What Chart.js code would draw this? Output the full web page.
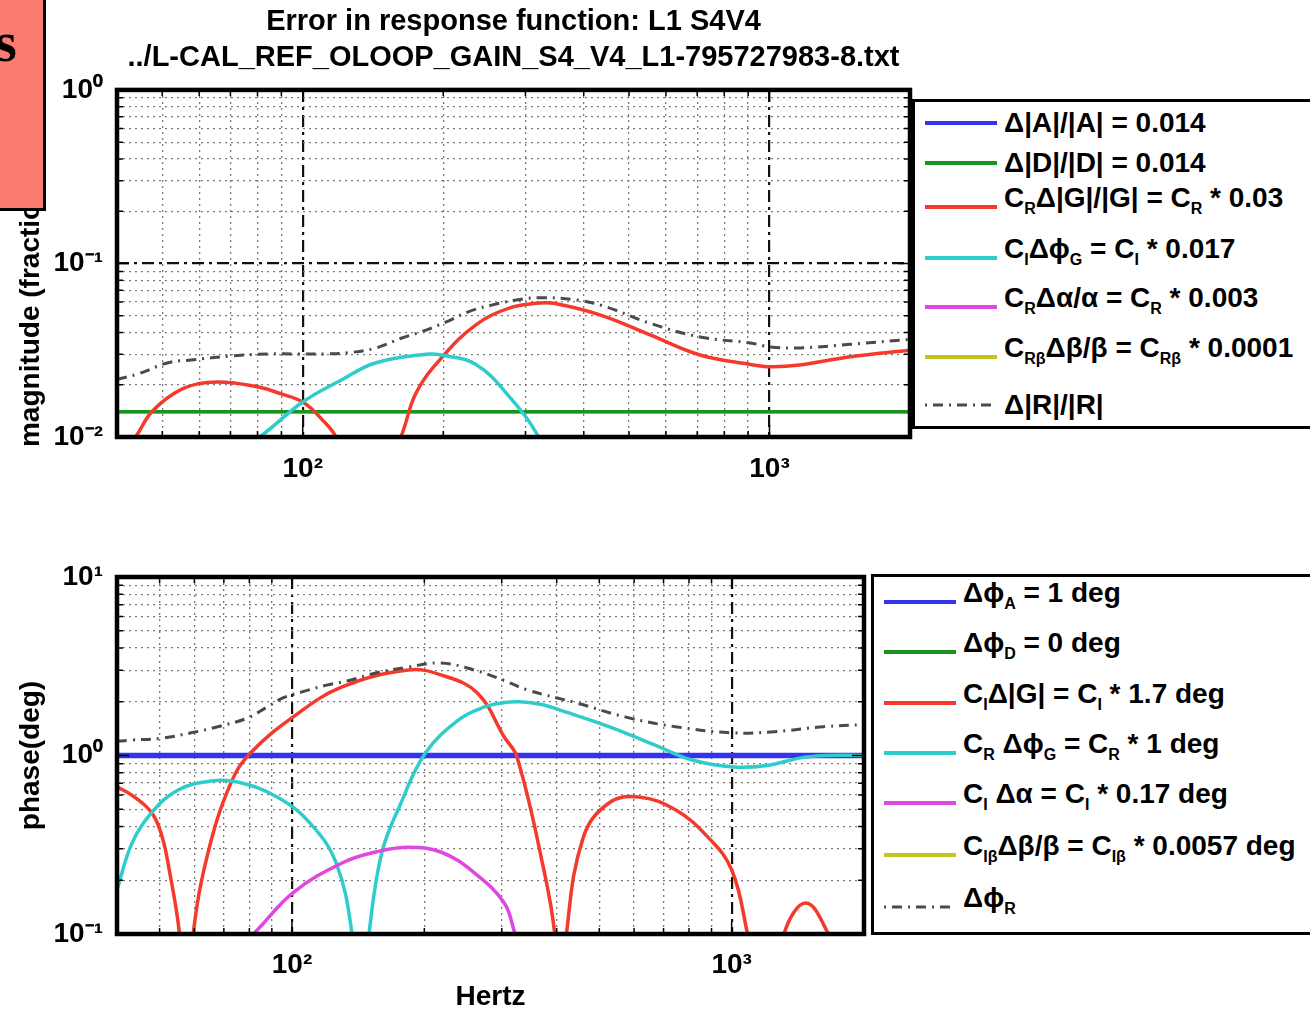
<!DOCTYPE html>
<html>
<head>
<meta charset="utf-8">
<script src="https://cdn.jsdelivr.net/npm/chart.js@4.4.1/dist/chart.umd.min.js"></script>
<style>
  html, body { margin: 0; padding: 0; }
  body { width: 1310px; height: 1012px; overflow: hidden; background: #fff; position: relative;
         font-family: "Liberation Sans", Arial, Helvetica, sans-serif; color: #000; }
  canvas { position: absolute; left: 0; }
  #topChart { top: 0; }
  #bottomChart { top: 540px; }
  .legend { position: absolute; background: #fff; border: 3px solid #000; box-sizing: border-box; z-index: 3; }
  #legendTop { left: 912px; top: 99px; width: 430px; height: 330px; }
  #legendBottom { left: 871px; top: 574px; width: 470px; height: 361px; }
  .row { position: absolute; left: 0; right: 0; height: 44px; display: flex; align-items: center;
         font-size: 28px; font-weight: bold; white-space: nowrap; }
  .row svg { flex: none; width: 72px; height: 10px; margin-left: 10px; }
  .row span { margin-left: 7px; position: relative; }
  .row span.up { top: -9px; }
  sub { font-size: 16px; vertical-align: -7px; line-height: 0; }
  #redBox { position: absolute; left: -20px; top: -20px; width: 66px; height: 231px; background: #fa7b70;
            border: 3px solid #000; box-sizing: border-box; z-index: 5; overflow: hidden; }
  #redBox span { position: absolute; left: 12px; top: 31px; font: bold 56px/1 "Liberation Serif", "Times New Roman", serif; }
</style>
</head>
<body>
<canvas id="topChart" width="1027" height="490"></canvas>
<canvas id="bottomChart" width="878" height="476"></canvas>

<div class="legend" id="legendTop">
  <div class="row" style="top:-1px"><svg><line x1="0" y1="5" x2="72" y2="5" stroke="#3434ee" stroke-width="4"/></svg><span>Δ|A|/|A| = 0.014</span></div>
  <div class="row" style="top:39px"><svg><line x1="0" y1="5" x2="72" y2="5" stroke="#18961c" stroke-width="4"/></svg><span>Δ|D|/|D| = 0.014</span></div>
  <div class="row" style="top:83px"><svg><line x1="0" y1="5" x2="72" y2="5" stroke="#f5392c" stroke-width="4"/></svg><span class="up">C<sub>R</sub>Δ|G|/|G| = C<sub>R</sub> * 0.03</span></div>
  <div class="row" style="top:134px"><svg><line x1="0" y1="5" x2="72" y2="5" stroke="#2fcccc" stroke-width="4"/></svg><span class="up">C<sub>I</sub>Δϕ<sub>G</sub> = C<sub>I</sub> * 0.017</span></div>
  <div class="row" style="top:183px"><svg><line x1="0" y1="5" x2="72" y2="5" stroke="#e046e0" stroke-width="4"/></svg><span class="up">C<sub>R</sub>Δα/α = C<sub>R</sub> * 0.003</span></div>
  <div class="row" style="top:233px"><svg><line x1="0" y1="5" x2="72" y2="5" stroke="#c4c41e" stroke-width="4"/></svg><span class="up">C<sub>Rβ</sub>Δβ/β = C<sub>Rβ</sub> * 0.0001</span></div>
  <div class="row" style="top:281px"><svg><line x1="0" y1="5" x2="72" y2="5" stroke="#4a4a4a" stroke-width="3" stroke-dasharray="2 6 10 6"/></svg><span>Δ|R|/|R|</span></div>
</div>

<div class="legend" id="legendBottom">
  <div class="row" style="top:3px"><svg><line x1="0" y1="5" x2="72" y2="5" stroke="#3434ee" stroke-width="4"/></svg><span class="up">Δϕ<sub>A</sub> = 1 deg</span></div>
  <div class="row" style="top:53px"><svg><line x1="0" y1="5" x2="72" y2="5" stroke="#18961c" stroke-width="4"/></svg><span class="up">Δϕ<sub>D</sub> = 0 deg</span></div>
  <div class="row" style="top:104px"><svg><line x1="0" y1="5" x2="72" y2="5" stroke="#f5392c" stroke-width="4"/></svg><span class="up">C<sub>I</sub>Δ|G| = C<sub>I</sub> * 1.7 deg</span></div>
  <div class="row" style="top:154px"><svg><line x1="0" y1="5" x2="72" y2="5" stroke="#2fcccc" stroke-width="4"/></svg><span class="up">C<sub>R</sub> Δϕ<sub>G</sub> = C<sub>R</sub> * 1 deg</span></div>
  <div class="row" style="top:204px"><svg><line x1="0" y1="5" x2="72" y2="5" stroke="#e046e0" stroke-width="4"/></svg><span class="up">C<sub>I</sub> Δα = C<sub>I</sub> * 0.17 deg</span></div>
  <div class="row" style="top:256px"><svg><line x1="0" y1="5" x2="72" y2="5" stroke="#c4c41e" stroke-width="4"/></svg><span class="up">C<sub>Iβ</sub>Δβ/β = C<sub>Iβ</sub> * 0.0057 deg</span></div>
  <div class="row" style="top:308px"><svg><line x1="0" y1="5" x2="72" y2="5" stroke="#4a4a4a" stroke-width="3" stroke-dasharray="2 6 10 6"/></svg><span class="up">Δϕ<sub>R</sub></span></div>
</div>

<div id="redBox"><span>s</span></div>

<script>
'use strict';

// ---- axes ----
var xTickValues = [50, 60, 70, 80, 90, 100, 200, 300, 400, 500, 600, 700, 800, 900, 1000, 2000];
var xLabelValues = [100, 1000];
var xLabels = ['10²', '10³'];

var magTickValues = [0.01, 0.02, 0.03, 0.04, 0.05, 0.06, 0.07, 0.08, 0.09,
                     0.1, 0.2, 0.3, 0.4, 0.5, 0.6, 0.7, 0.8, 0.9, 1];
var magLabelValues = [0.01, 0.1, 1];
var magLabels = ['10⁻²', '10⁻¹', '10⁰'];

var phaseTickValues = [0.1, 0.2, 0.3, 0.4, 0.5, 0.6, 0.7, 0.8, 0.9,
                       1, 2, 3, 4, 5, 6, 7, 8, 9, 10];
var phaseLabelValues = [0.1, 1, 10];
var phaseLabels = ['10⁻¹', '10⁰', '10¹'];

var titleLines = ['Error in response function: L1 S4V4',
                  '../L-CAL_REF_OLOOP_GAIN_S4_V4_L1-795727983-8.txt'];

// ---- magnitude panel ----
var magFlatFreq = [40, 2000];
var magA = [0.014, 0.014];
var magD = [0.014, 0.014];
var magBeta = [0.0001, 0.0001];

var magGFreq = [40, 43.8, 47.3, 53.3, 59.8, 68.2, 80.4, 90, 100, 110, 118, 125, 140, 162, 175,
                199, 235, 277, 321, 345, 433, 555, 710, 910, 1005, 1160, 1490, 2000];
var magG = [0.0078, 0.0100, 0.0138, 0.0180, 0.0203, 0.0207, 0.0194, 0.0177, 0.0159, 0.0126, 0.0099, 0.0060, 0.0045, 0.0099, 0.0180,
            0.0289, 0.0443, 0.0553, 0.0591, 0.0590, 0.0506, 0.0388, 0.0297, 0.0262, 0.0254, 0.0260, 0.0290, 0.0316];

var magPhiFreq = [40, 60, 80.4, 100, 121, 143, 184, 199, 235, 277, 321, 360, 600, 1000, 2000];
var magPhi = [0.004, 0.006, 0.0099, 0.0159, 0.0213, 0.0267, 0.0300, 0.0296, 0.0262, 0.0171, 0.0099, 0.005, 0.003, 0.004, 0.005];

var magAlphaFreq = [40, 100, 300, 1000, 2000];
var magAlpha = [0.002, 0.004, 0.006, 0.0025, 0.003];

var magRFreq = [40, 44.4, 51.5, 57.7, 70.4, 84.5, 98, 112, 125.6, 143.6, 163, 180, 203,
                227, 255, 287, 322, 386, 440, 555, 710, 910, 1005, 1160, 1490, 2000];
var magR = [0.0215, 0.0231, 0.0268, 0.0278, 0.0293, 0.0301, 0.0301, 0.0301, 0.0306, 0.0326, 0.0372, 0.0405, 0.0460,
            0.0528, 0.0577, 0.0616, 0.0635, 0.0616, 0.0570, 0.0452, 0.0377, 0.0348, 0.0330, 0.0326, 0.0342, 0.0365];

// ---- phase panel ----
var phaseFlatFreq = [40, 2000];
var phaseA = [1, 1];
var phaseD = [0, 0];
var phaseBeta = [0.0057, 0.0057];

var phaseGFreq = [40, 43.2, 47.9, 50.5, 52.4, 55.5, 57.5, 59.6, 64.4, 72.6, 80.4, 100.5, 130, 184, 218, 264, 304, 325,
                  374, 396, 408, 421, 460, 526, 615, 745, 883, 1000, 1087, 1200, 1315, 1475, 1660, 1800, 2000];
var phaseG = [0.667, 0.60, 0.48, 0.36, 0.24, 0.1, 0.03, 0.1, 0.284, 0.70, 1.03, 1.64, 2.42, 3.01, 2.83, 2.24, 1.27, 0.98,
              0.229, 0.1, 0.03, 0.1, 0.349, 0.542, 0.586, 0.496, 0.349, 0.229, 0.1, 0.03, 0.1, 0.149, 0.1, 0.06, 0.05];

var phasePhiFreq = [40, 43.3, 47.9, 55.1, 65.4, 75.2, 92.5, 109.8, 126, 137, 143, 149.7, 160, 177, 201,
                    239, 274, 304, 330, 370, 406, 526, 682, 813, 1011, 1205, 1436, 1645, 2000];
var phasePhi = [0.177, 0.324, 0.477, 0.641, 0.719, 0.71, 0.586, 0.419, 0.25, 0.1, 0.03, 0.1, 0.284, 0.542, 1.03,
                1.58, 1.87, 1.98, 2.0, 1.93, 1.8, 1.45, 1.12, 0.944, 0.863, 0.88, 0.97, 1.0, 1.0];

var phaseAlphaFreq = [40, 60, 81.7, 100.5, 130, 155, 184, 218, 260, 304, 322, 350];
var phaseAlpha = [0.03, 0.05, 0.1, 0.17, 0.25, 0.288, 0.306, 0.288, 0.22, 0.149, 0.1, 0.06];

var phaseRFreq = [40, 43.2, 50.5, 59, 67.8, 79.2, 87.8, 95.4, 105.9, 119.9, 135, 155,
                  184, 218, 260, 304, 343, 444, 575, 745, 1000, 1250, 1620, 2000];
var phaseR = [1.2, 1.22, 1.25, 1.34, 1.45, 1.62, 1.87, 2.1, 2.28, 2.48, 2.63, 2.9,
              3.13, 3.3, 3.01, 2.63, 2.33, 1.97, 1.64, 1.45, 1.34, 1.36, 1.45, 1.49];

// ---- styling ----
var FONT = '"Liberation Sans", Arial, Helvetica, sans-serif';
var colors = { A: '#3434ee', D: '#18961c', G: '#f5392c', phi: '#2fcccc', alpha: '#e046e0', beta: '#c4c41e', R: '#4a4a4a' };
var dashR = [10, 6, 2, 6];

Chart.defaults.font.family = FONT;
Chart.defaults.color = '#000';

function isDecade(v) {
    var l = Math.log10(v);
    return Math.abs(l - Math.round(l)) < 1e-6;
}

function labeler(values, labels) {
    return function (v) {
        for (var i = 0; i < values.length; i++) {
            if (Math.abs(values[i] - v) / v < 1e-6) return labels[i];
        }
        return '';
    };
}

// log of zero is not drawable, so zero values become gaps
function points(freqs, vals) {
    return freqs.map(function (f, i) { return { x: f, y: vals[i] > 0 ? vals[i] : null }; });
}

function series(freqs, vals, color, width, dash, order) {
    return {
        data: points(freqs, vals),
        borderColor: color,
        borderWidth: width,
        borderDash: dash || [],
        pointRadius: 0,
        fill: false,
        tension: 0.4,
        order: order
    };
}

function tickMajor(c) { return !!(c.tick && isDecade(c.tick.value)); }

var tickFont = { family: FONT, size: 28, weight: 'bold' };
var labelFont = { family: FONT, size: 28, weight: 'bold', lineHeight: 1.2 };

function logAxis(min, max, tickValues, labelFn, pad, fit, title) {
    var axis = {
        type: 'logarithmic',
        min: min,
        max: max,
        bounds: 'data',
        afterBuildTicks: function (s) { s.ticks = tickValues.map(function (v) { return { value: v }; }); },
        afterFit: fit,
        ticks: { autoSkip: false, maxRotation: 0, callback: labelFn, color: '#000', font: tickFont, padding: pad },
        grid: {
            drawTicks: false,
            color: function (c) { return tickMajor(c) ? '#111' : '#7a7a7a'; },
            lineWidth: function (c) { return tickMajor(c) ? 2.2 : 1.3; }
        },
        border: {
            display: false,
            dash: function (c) { return tickMajor(c) ? [12, 5, 3, 5] : [2, 4]; }
        }
    };
    if (title) axis.title = title;
    return axis;
}

// black box with inward tick marks, like the original axes
var framePlugin = {
    id: 'frame',
    afterDatasetsDraw: function (chart) {
        var ctx = chart.ctx, a = chart.chartArea, sx = chart.scales.x, sy = chart.scales.y;
        ctx.save();
        ctx.strokeStyle = '#000';
        ctx.lineWidth = 1.5;
        ctx.beginPath();
        sx.ticks.forEach(function (t) {
            var p = sx.getPixelForValue(t.value), len = isDecade(t.value) ? 12 : 6;
            ctx.moveTo(p, a.bottom); ctx.lineTo(p, a.bottom - len);
            ctx.moveTo(p, a.top); ctx.lineTo(p, a.top + len);
        });
        sy.ticks.forEach(function (t) {
            var p = sy.getPixelForValue(t.value), len = isDecade(t.value) ? 12 : 6;
            ctx.moveTo(a.left, p); ctx.lineTo(a.left + len, p);
            ctx.moveTo(a.right, p); ctx.lineTo(a.right - len, p);
        });
        ctx.stroke();
        ctx.lineWidth = 4.5;
        ctx.strokeRect(a.left, a.top, a.right - a.left, a.bottom - a.top);
        ctx.restore();
    }
};

var baseOptions = function () {
    return {
        responsive: false,
        animation: false,
        devicePixelRatio: 1,
        plugins: { legend: { display: false }, tooltip: { enabled: false } }
    };
};

// magnitude
var topOpts = baseOptions();
topOpts.layout = { padding: { left: 0, right: 117, top: 0, bottom: 0 } };
topOpts.plugins.title = {
    display: true, text: titleLines, color: '#000', fullSize: false,
    font: { family: FONT, size: 29, weight: 'bold', lineHeight: 1.24 },
    padding: { top: 4, bottom: 14 }
};
topOpts.scales = {
    x: logAxis(40, 2000, xTickValues, labeler(xLabelValues, xLabels), 15,
               function (s) { s.height = 53; }),
    y: logAxis(0.01, 1, magTickValues, labeler(magLabelValues, magLabels), 14,
               function (s) { s.width = 117; },
               { display: true, text: 'magnitude (fractional error)', color: '#000',
                 font: labelFont, padding: { top: 14, bottom: 0 } })
};

new Chart(document.getElementById('topChart'), {
    type: 'line',
    data: { datasets: [
        series(magFlatFreq, magA, colors.A, 3, null, 7),
        series(magFlatFreq, magD, colors.D, 3.5, null, 6),
        series(magGFreq, magG, colors.G, 3.5, null, 5),
        series(magPhiFreq, magPhi, colors.phi, 3.5, null, 4),
        series(magAlphaFreq, magAlpha, colors.alpha, 3.5, null, 3),
        series(magFlatFreq, magBeta, colors.beta, 3.5, null, 2),
        series(magRFreq, magR, colors.R, 3, dashR, 1)
    ] },
    options: topOpts,
    plugins: [framePlugin]
});

// phase
var botOpts = baseOptions();
botOpts.layout = { padding: { left: 0, right: 10, top: 37, bottom: 0 } };
botOpts.scales = {
    x: logAxis(40, 2000, xTickValues, labeler(xLabelValues, xLabels), 14,
               function (s) { s.height = 82; },
               { display: true, text: 'Hertz', color: '#000',
                 font: labelFont, padding: { top: 0, bottom: 2 } }),
    y: logAxis(0.1, 10, phaseTickValues, labeler(phaseLabelValues, phaseLabels), 14,
               function (s) { s.width = 117; },
               { display: true, text: 'phase(deg)', color: '#000',
                 font: labelFont, padding: { top: 14, bottom: 0 } })
};

new Chart(document.getElementById('bottomChart'), {
    type: 'line',
    data: { datasets: [
        series(phaseFlatFreq, phaseA, colors.A, 5.5, null, 7),
        series(phaseFlatFreq, phaseD, colors.D, 3.5, null, 6),
        series(phaseGFreq, phaseG, colors.G, 3.5, null, 5),
        series(phasePhiFreq, phasePhi, colors.phi, 3.5, null, 4),
        series(phaseAlphaFreq, phaseAlpha, colors.alpha, 3.5, null, 3),
        series(phaseFlatFreq, phaseBeta, colors.beta, 3.5, null, 2),
        series(phaseRFreq, phaseR, colors.R, 3, dashR, 1)
    ] },
    options: botOpts,
    plugins: [framePlugin]
});
</script>
</body>
</html>
